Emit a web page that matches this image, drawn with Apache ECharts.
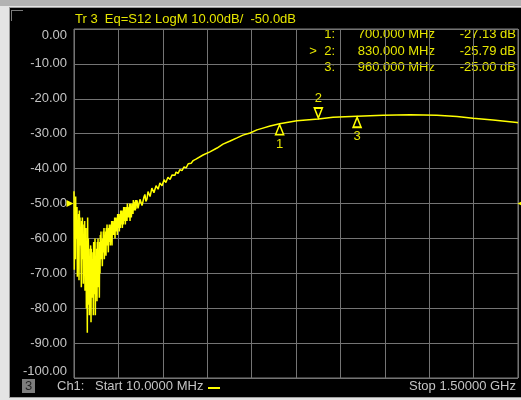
<!DOCTYPE html>
<html>
<head>
<meta charset="utf-8">
<script src="https://cdn.jsdelivr.net/npm/echarts@6/dist/echarts.min.js"></script>
<style>
  html, body { margin:0; padding:0; width:521px; height:400px; overflow:hidden; background:#e4e4e4; }
  #topstrip { position:absolute; left:0; top:0; width:521px; height:6px; background:#b2b2b2; }
  #panel { position:absolute; left:9px; top:7px; width:512px; height:389px; background:#000; border-left:1px solid #9a9a9a; border-top:1px solid #9a9a9a; border-bottom:1px solid #a0a0a0; }
  #corner { position:absolute; left:11px; top:10px; width:11px; height:10px; border-left:1px solid #7a7a7a; border-top:1px solid #7a7a7a; }
  #chart { position:absolute; left:0; top:0; width:521px; height:400px; }
</style>
</head>
<body>
<div id="topstrip"></div>
<div id="panel"></div>
<div id="corner"></div>
<div id="chart"></div>
<script>
// ---- Data (frequency in MHz, S12 in dB) ----
const yTicks = [0, -10, -20, -30, -40, -50, -60, -70, -80, -90, -100];

// noisy low-frequency region: per column a high, a low and a middle reading
const noiseFreq = [10, 13.4, 16.7, 20.1, 23.4, 26.8, 30.1, 33.5, 36.9, 40.2, 43.6, 46.9, 50.3, 53.6, 57.0, 60.4, 63.7, 67.1, 70.4, 73.8,
  77.1, 80.5, 83.9, 87.2, 90.6, 93.9, 97.3, 100.6, 104.0, 107.3, 110.7, 114.1, 117.4, 120.8, 124.1, 127.5, 130.8, 134.2, 137.6, 140.9,
  144.3, 147.6, 151.0, 154.3, 157.7, 161.0, 164.4, 167.8, 171.1, 174.5, 177.8, 181.2, 184.5, 187.9, 191.2, 194.6, 198.0, 201.3, 204.7, 208.0,
  211.4, 214.7, 218.1];
const noiseHi = [-46.5, -48, -52, -51, -53, -52, -54, -55, -54, -56, -55, -58, -57, -54, -60, -63, -62, -63, -64, -61,
  -62, -60, -63, -61, -60, -61, -59, -58, -60, -58, -57, -58, -57, -56, -57, -56, -56, -55, -56, -55,
  -54, -55, -54, -53, -54, -53, -52, -53, -52, -51, -52, -51, -51, -50, -51, -50, -51, -50, -50, -49,
  -49.5, -49, -49];
const noiseLo = [-69, -66, -60, -71, -64, -72, -62, -74, -66, -73, -68, -75, -80, -87, -79, -82, -74, -84, -77, -82,
  -76, -82, -72, -78, -74, -77, -70, -66, -68, -64, -66, -63, -65, -62, -64, -61, -62, -60, -62, -59,
  -59, -60, -58, -59, -57, -58, -57, -56, -57, -56, -55, -56, -55, -55, -54, -54, -55, -54, -53, -53,
  -52, -52, -51.5];
const noiseMid = [-58, -55, -57, -62, -57, -60, -58, -63, -59, -64, -60, -66, -62, -70, -68, -72, -66, -70, -70, -66,
  -68, -66, -67, -66, -65, -66, -63, -61, -63, -60, -61, -60, -60, -58, -60, -58, -59, -57, -58, -57,
  -56, -57, -56, -55, -55.5, -55, -54.5, -54.5, -54, -53, -53.5, -52.5, -53, -52, -52.5, -51.5, -53, -52, -51.5, -50.5,
  -50.5, -50.5, -50];

// slightly fuzzy rising part
const fuzzFreq = [221.5, 228, 235, 242, 248, 255, 262, 268, 275, 282, 289, 295, 302, 309, 315, 322, 329, 336, 342, 349,
  356, 362, 369, 376, 383, 390, 396, 403, 410, 416];
const fuzzHi = [-49.1, -48.8, -48.3, -48.0, -47.4, -46.6, -46.2, -45.6, -45.3, -44.9, -44.5, -44.1, -43.7, -43.2, -42.9, -42.5, -42.2, -41.8, -41.4, -41.0,
  -40.7, -40.3, -39.9, -39.5, -39.1, -38.6, -38.4, -38.0, -37.7, -37.3];
const fuzzLo = [-51.4, -50.9, -50.6, -50.1, -49.4, -48.7, -48.0, -47.5, -46.9, -46.4, -45.9, -45.5, -44.9, -44.5, -44.0, -43.6, -43.1, -42.7, -42.3, -41.9,
  -41.4, -41.0, -40.6, -40.2, -39.8, -39.3, -38.9, -38.5, -38.1, -37.7];

// smooth part of the sweep
const sweepFreq = [423, 443, 466, 490, 510, 534, 557, 577, 601, 624, 644,
  668, 700, 758, 830, 879, 960, 1047, 1138, 1228, 1295, 1349, 1416, 1497, 1500];
const sweepDb = [-37.2, -36.1, -35.2, -34.1, -33, -32.1, -31.2, -30.4, -29.8, -28.9, -28.4,
  -27.8, -27.13, -26.3, -25.79, -25.3, -25.0, -24.7, -24.6, -24.7, -25.1, -25.6, -26.1, -26.8, -26.85];

// markers
const markerNames = ['1', '2', '3'];
const markerFreq = [700, 830, 960];
const markerDb = [-27.13, -25.79, -25.00];
const markerFreqText = ['700.000 MHz', '830.000 MHz', '960.000 MHz'];
const markerValText = ['-27.13 dB', '-25.79 dB', '-25.00 dB'];

const titleText = 'Tr 3  Eq=S12 LogM 10.00dB/  -50.0dB';
const startText = 'Start 10.0000 MHz';
const stopText = 'Stop 1.50000 GHz';

// ---- build trace ----
const trace = [];
for (let i = 0; i < noiseFreq.length; i++) {
  const f = noiseFreq[i];
  if (i % 3 === 0) { trace.push([f, noiseHi[i]], [f + 1.1, noiseLo[i]], [f + 2.2, noiseMid[i]]); }
  else if (i % 3 === 1) { trace.push([f, noiseMid[i]], [f + 1.1, noiseLo[i]], [f + 2.2, noiseHi[i]]); }
  else { trace.push([f, noiseLo[i]], [f + 1.1, noiseHi[i]], [f + 2.2, noiseMid[i]]); }
}
for (let i = 0; i < fuzzFreq.length; i++) {
  if (i % 2 === 0) trace.push([fuzzFreq[i], fuzzHi[i]], [fuzzFreq[i] + 3.3, fuzzLo[i]]);
  else trace.push([fuzzFreq[i], fuzzLo[i]], [fuzzFreq[i] + 3.3, fuzzHi[i]]);
}
for (let i = 0; i < sweepFreq.length; i++) trace.push([sweepFreq[i], sweepDb[i]]);

const YEL = '#ffff00';
const TXT_YEL = '#e6e600';
const GRAY_TXT = '#c4c4c4';
const FONT = '"Liberation Sans", Arial, sans-serif';

const markPts = markerFreq.map((f, i) => {
  const down = (i === 1);
  return {
    coord: [f, markerDb[i]],
    symbol: 'triangle',
    symbolSize: [8, 10],
    symbolRotate: down ? 180 : 0,
    symbolOffset: [0, down ? -6 : 6],
    itemStyle: { color: '#000', borderColor: YEL, borderWidth: 1.6 },
    label: {
      show: true, formatter: markerNames[i], color: TXT_YEL, fontSize: 13, fontFamily: FONT,
      position: down ? 'top' : 'bottom', distance: 2
    }
  };
});
markPts.push({ coord: [10, -50], symbol: 'triangle', symbolSize: [7, 7], symbolRotate: -90, symbolOffset: [-4, 0],
  itemStyle: { color: YEL }, label: { show: false } });
markPts.push({ coord: [1500, -50], symbol: 'triangle', symbolSize: [7, 7], symbolRotate: 90, symbolOffset: [3, 0],
  itemStyle: { color: YEL }, label: { show: false } });

const graphics = [];
graphics.push({ type: 'text', left: 75, top: 13, style: { text: titleText, fill: TXT_YEL, font: '13px ' + FONT } });
const rowY = [28, 45, 61];
for (let i = 0; i < 3; i++) {
  graphics.push({ type: 'text', x: 335, y: rowY[i], style: { text: (i === 1 ? '>  ' : '') + markerNames[i] + ':', fill: TXT_YEL, font: '13px ' + FONT, align: 'right' } });
  graphics.push({ type: 'text', x: 435, y: rowY[i], style: { text: markerFreqText[i], fill: TXT_YEL, font: '13px ' + FONT, align: 'right' } });
  graphics.push({ type: 'text', x: 516, y: rowY[i], style: { text: markerValText[i], fill: TXT_YEL, font: '13px ' + FONT, align: 'right' } });
}
graphics.push({ type: 'rect', shape: { x: 22, y: 379, width: 13, height: 14 }, style: { fill: '#7e7e7e' } });
graphics.push({ type: 'text', x: 28.5, y: 380, style: { text: '3', fill: '#262626', font: '13px ' + FONT, align: 'center' } });
graphics.push({ type: 'text', x: 57, y: 380, style: { text: 'Ch1:', fill: GRAY_TXT, font: '13px ' + FONT } });
graphics.push({ type: 'text', x: 95, y: 380, style: { text: startText, fill: GRAY_TXT, font: '13px ' + FONT } });
graphics.push({ type: 'rect', shape: { x: 208, y: 387, width: 12, height: 2 }, style: { fill: YEL } });
graphics.push({ type: 'text', x: 516, y: 380, style: { text: stopText, fill: GRAY_TXT, font: '13px ' + FONT, align: 'right' } });

const chart = echarts.init(document.getElementById('chart'), null, { renderer: 'canvas' });
chart.setOption({
  animation: false,
  backgroundColor: 'transparent',
  grid: { left: 74, top: 29, width: 444, height: 349, show: true, borderColor: '#7c7c7c', borderWidth: 1, backgroundColor: 'transparent' },
  xAxis: [
    { type: 'value', min: 10, max: 1500, show: false, splitLine: { show: false } },
    { type: 'value', min: 0, max: 10, interval: 1, show: true, position: 'bottom',
      axisLine: { show: false }, axisTick: { show: false }, axisLabel: { show: false },
      splitLine: { show: true, lineStyle: { color: '#747474', width: 1 } } }
  ],
  yAxis: {
    type: 'value', min: yTicks[yTicks.length - 1], max: yTicks[0], interval: 10,
    axisLine: { show: false }, axisTick: { show: false },
    splitLine: { show: true, lineStyle: { color: '#747474', width: 1 } },
    axisLabel: { color: GRAY_TXT, fontSize: 13, fontFamily: FONT, margin: 7,
      formatter: v => v.toFixed(2),
      verticalAlignMinLabel: 'bottom', verticalAlignMaxLabel: 'top' }
  },
  graphic: graphics,
  series: [{
    type: 'line', xAxisIndex: 0, data: trace, showSymbol: false, symbol: 'none',
    lineStyle: { color: YEL, width: 1.5 }, clip: false,
    markPoint: { data: markPts, animation: false }
  }]
});
</script>
</body>
</html>
